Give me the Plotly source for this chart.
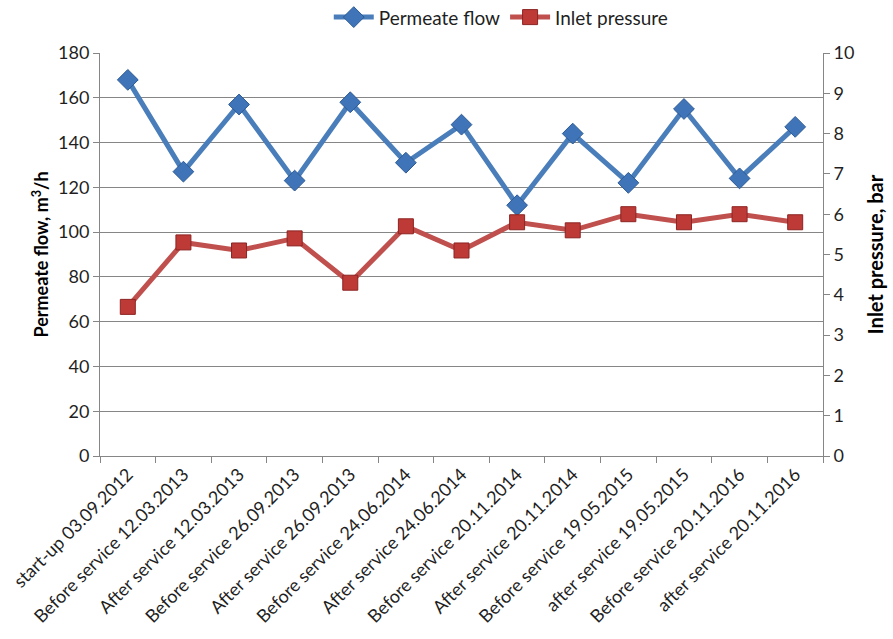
import plotly.graph_objects as go

# Service history of the RO unit
events = [
    "start-up 03.09.2012",
    "Before service 12.03.2013",
    "After service 12.03.2013",
    "Before service 26.09.2013",
    "After service 26.09.2013",
    "Before service 24.06.2014",
    "After service 24.06.2014",
    "Before service 20.11.2014",
    "After service 20.11.2014",
    "Before service 19.05.2015",
    "after service 19.05.2015",
    "Before service 20.11.2016",
    "after service 20.11.2016",
]
permeate_flow = [168, 127, 157, 123, 158, 131, 148, 112, 144, 122, 155, 124, 147]
inlet_pressure = [3.7, 5.3, 5.1, 5.4, 4.3, 5.7, 5.1, 5.8, 5.6, 6.0, 5.8, 6.0, 5.8]

FONT = "Lato, 'Open Sans', sans-serif"
TEXT = "#1f1f1f"
AXIS = "#868686"
TICK_SIZE = 18

fig = go.Figure()

fig.add_trace(go.Scatter(
    x=events, y=permeate_flow, name="Permeate flow",
    mode="lines+markers",
    line=dict(color="#4a7ebb", width=5),
    marker=dict(symbol="diamond", size=16, color="#3f74b8",
                line=dict(color="#2c5a94", width=1)),
    yaxis="y",
))
fig.add_trace(go.Scatter(
    x=events, y=inlet_pressure, name="Inlet pressure",
    mode="lines+markers",
    line=dict(color="#c0504d", width=5),
    marker=dict(symbol="square", size=15, color="#be3a37",
                line=dict(color="#8c2422", width=1)),
    yaxis="y2",
))

fig.update_layout(
    width=893, height=639,
    margin=dict(l=100, r=70, t=53, b=183, autoexpand=False),
    paper_bgcolor="white", plot_bgcolor="white",
    font=dict(family=FONT, size=TICK_SIZE, color=TEXT),
    showlegend=True,
    legend=dict(orientation="h", x=0.555, xanchor="center",
                yref="container", y=0.973, yanchor="middle",
                font=dict(family=FONT, size=19, color=TEXT),
                itemwidth=40, tracegroupgap=0),
    xaxis=dict(
        type="category", range=[-0.5, len(events) - 0.5],
        tickangle=-45, tickson="boundaries",
        ticks="outside", ticklen=6, tickcolor=AXIS,
        showline=True, linecolor=AXIS, linewidth=1,
        showgrid=False, tickfont=dict(family=FONT, size=TICK_SIZE, color=TEXT),
    ),
    yaxis=dict(
        range=[0, 180], dtick=20,
        ticks="outside", ticklen=6, tickcolor=AXIS,
        showline=True, linecolor=AXIS, linewidth=1,
        showgrid=True, gridcolor=AXIS, gridwidth=1,
        zeroline=False,
        tickfont=dict(family=FONT, size=TICK_SIZE, color=TEXT),
        title=dict(text="<b>Permeate flow, m<sup>3</sup>/h</b>",
                   font=dict(family=FONT, size=18, color="#000000"), standoff=4),
    ),
    yaxis2=dict(
        range=[0, 10], dtick=1, overlaying="y", side="right",
        ticks="outside", ticklen=6, tickcolor=AXIS,
        showline=True, linecolor=AXIS, linewidth=1,
        showgrid=False, zeroline=False,
        tickfont=dict(family=FONT, size=TICK_SIZE, color=TEXT),
        title=dict(text="<b>Inlet pressure, bar</b>",
                   font=dict(family=FONT, size=20, color="#000000"), standoff=15),
    ),
)

fig.write_html("out.html")
